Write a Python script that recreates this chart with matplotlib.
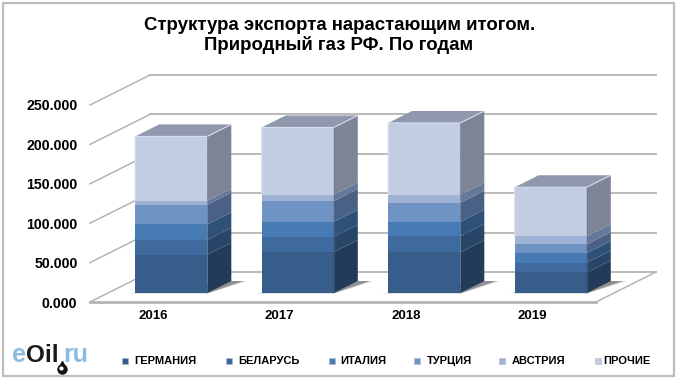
import numpy as np
import matplotlib
matplotlib.use('Agg')
import matplotlib.pyplot as plt
from matplotlib.patches import Polygon, Rectangle

plt.rcParams['font.family'] = ['Liberation Sans', 'DejaVu Sans']

years = ['2016', '2017', '2018', '2019']
countries = ['ГЕРМАНИЯ', 'БЕЛАРУСЬ', 'ИТАЛИЯ', 'ТУРЦИЯ', 'АВСТРИЯ', 'ПРОЧИЕ']

germany = [48.6, 52.0, 51.6, 26.2]
belarus = [19.0, 19.5, 20.7, 12.3]
italy = [19.5, 19.0, 18.2, 12.3]
turkey = [25.0, 26.2, 24.1, 11.0]
austria = [5.0, 8.0, 10.2, 10.2]
other = [81.6, 85.4, 91.0, 62.2]

y_ticks = [0, 50, 100, 150, 200, 250]

front_colors = ['#375D8A', '#3E6A9E', '#487AB4', '#7093C5', '#9FB2D6', '#C2CDE2']
side_colors = ['#243A59', '#274668', '#2E5079', '#4A6084', '#66789A', '#7C8495']
top_color = '#8F98AC'
grid_color = '#B4B4B4'

W, H = 680, 384
DX = 60 / 126.5   # full floor depth in x units
DY = 30 / 0.788   # full floor depth in y units
BAR_W = 0.57
D0, D1 = 0.3, 0.7


def pt(x, v, d):
    return (x + d * DX, v + d * DY)


def poly(ax, pts, color, **kw):
    ax.add_patch(Polygon(pts, closed=True, facecolor=color, edgecolor='none', clip_on=False, **kw))


fig = plt.figure(figsize=(W / 100, H / 100), dpi=100)
# axes box = front plane of the 3d chart
ax = fig.add_axes([90 / W, 1 - 302 / H, 506 / W, 197 / H])
ax.set_xlim(-0.5, 3.5)
ax.set_ylim(0, 250)
ax.patch.set_visible(False)
for s in ax.spines.values():
    s.set_visible(False)
ax.set_xticks(range(len(years)))
ax.set_xticklabels(years, fontsize=9.5, fontweight='bold')
ax.set_yticks(y_ticks)
ax.set_yticklabels(['%d.000' % t for t in y_ticks], fontsize=10.2, fontweight='bold')
ax.tick_params(axis='x', length=0, pad=6)
ax.tick_params(axis='y', length=0, pad=9)

# outer frame
fig.add_artist(Rectangle((3 / W, 1 - 376 / H), 671 / W, 373 / H, transform=fig.transFigure,
                         facecolor='white', edgecolor='#BDBDBD', linewidth=1.6, zorder=-5))

# walls and floor lines
for t in y_ticks:
    a, b = pt(-0.5, t, 0), pt(-0.5, t, 1)
    ax.plot([a[0], b[0]], [a[1], b[1]], color=grid_color, lw=1.1, clip_on=False, zorder=1)
    c = pt(3.5, t, 1)
    ax.plot([b[0], c[0]], [b[1], c[1]], color=grid_color, lw=1.3, clip_on=False, zorder=1)
a, b = pt(3.5, 0, 0), pt(3.5, 0, 1)
ax.plot([a[0], b[0]], [a[1], b[1]], color=grid_color, lw=1.1, clip_on=False, zorder=1)
ax.plot([-0.5, 3.5], [0, 0], color=grid_color, lw=2, clip_on=False, zorder=1)

series = [germany, belarus, italy, turkey, austria, other]

for i in range(len(years)):
    x0, x1 = i - BAR_W / 2, i + BAR_W / 2
    # soft shadow on the floor
    for grow, al in [(0.05, 0.10), (0.03, 0.2), (0.012, 0.35)]:
        poly(ax, [pt(x0 - grow, 0, D0 - grow * 0.3), pt(x1 + grow * 0.3, 0, D0 - grow * 0.3),
                  pt(x1 + 0.08 + grow, 0, D1), pt(x1, 0, D1)], '#303030', alpha=al, zorder=2)
    bottom = 0
    for k, vals in enumerate(series):
        top = bottom + vals[i]
        poly(ax, [pt(x0, bottom, D0), pt(x1, bottom, D0), pt(x1, top, D0), pt(x0, top, D0)],
             front_colors[k], zorder=3)
        poly(ax, [pt(x1, bottom, D0), pt(x1, bottom, D1), pt(x1, top, D1), pt(x1, top, D0)],
             side_colors[k], zorder=3)
        bottom = top
    poly(ax, [pt(x0, bottom, D0), pt(x1, bottom, D0), pt(x1, bottom, D1), pt(x0, bottom, D1)],
         top_color, zorder=3)
    # light bevel along top edges
    e = [pt(x0, series[4][i] + sum(s[i] for s in series[:4]), D0), pt(x0, bottom, D0),
         pt(x1, bottom, D0), pt(x1, bottom, D1)]
    ax.plot([p[0] for p in e], [p[1] for p in e], color='#D6DEEE', lw=0.8, clip_on=False, zorder=4)
    e = [pt(x1, bottom, D0), pt(x1, 0, D0)]
    ax.plot([p[0] for p in e], [p[1] for p in e], color='#5F7390', lw=0.5, clip_on=False, zorder=4, alpha=0.6)

# title
fig.text(340 / W, 1 - 25 / H, 'Структура экспорта нарастающим итогом.', ha='center', va='center',
         fontsize=13.4, fontweight='bold')
fig.text(339 / W, 1 - 45 / H, 'Природный газ РФ. По годам', ha='center', va='center',
         fontsize=13.4, fontweight='bold')

# legend
square_x = [122, 226, 329, 414, 499, 595]
text_x = [134, 238, 340, 427, 512, 603]
for name, col, sx, tx in zip(countries, front_colors, square_x, text_x):
    fig.add_artist(Rectangle((sx / W, 1 - 364 / H), 6 / W, 6 / H, transform=fig.transFigure,
                             facecolor=col, edgecolor='#AEB8CC', linewidth=0.4))
    fig.text(tx / W, 1 - 361 / H, name, ha='left', va='center', fontsize=8, fontweight='bold')

# logo
logo_y = 1 - 355 / H
fig.text(12 / W, logo_y, 'e', color='#8CBBE0', fontsize=18, fontweight='bold', va='center', ha='left')
fig.text(26 / W, logo_y, 'Oil', color='#1A1A1A', fontsize=17.5, fontweight='bold', va='center', ha='left')
fig.text(63 / W, logo_y, 'ru', color='#8CBBE0', fontsize=18, fontweight='bold', va='center', ha='left')
logo_ax = fig.add_axes([0, 0, 1, 1], zorder=5)
logo_ax.set_xlim(0, W)
logo_ax.set_ylim(H, 0)
logo_ax.axis('off')
logo_ax.plot([62], [369], marker='o', ms=6.5, color='#111111')
logo_ax.plot([62], [363.5], marker='^', ms=4, color='#111111')
logo_ax.plot([60.5], [368], marker='o', ms=2, color='white')

fig.savefig('out.png', dpi=100)
